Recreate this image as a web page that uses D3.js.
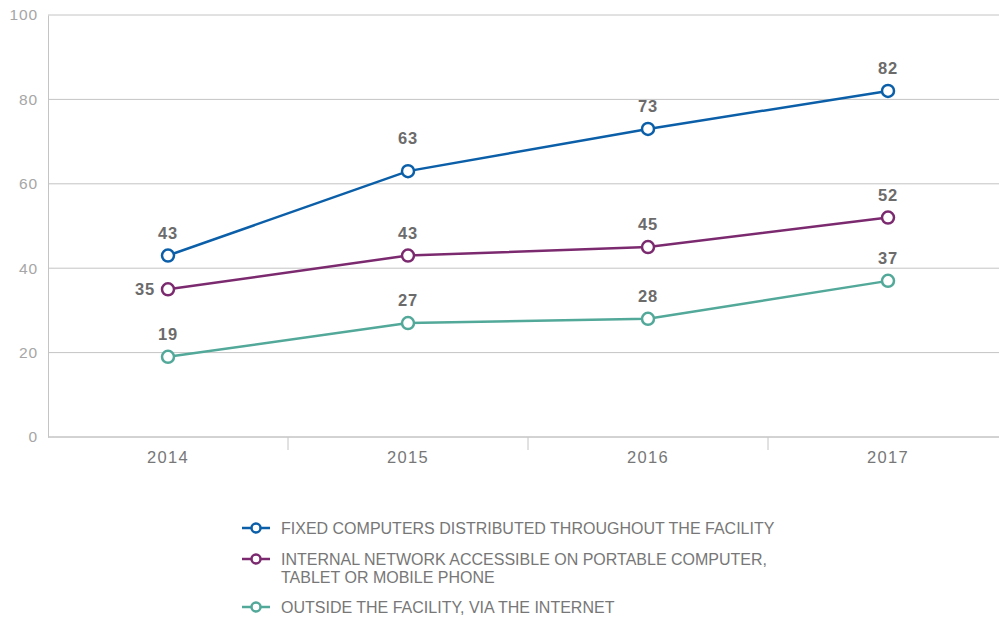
<!DOCTYPE html>
<html>
<head>
<meta charset="utf-8">
<script src="https://cdn.jsdelivr.net/npm/d3@7/dist/d3.min.js"></script>
<style>
  html, body { margin: 0; padding: 0; background: #fff; }
  svg { display: block; font-family: "Liberation Sans", Arial, sans-serif; }
</style>
</head>
<body>
<svg id="chart" width="999" height="617"></svg>
<script>
// Years on the x axis
const years = ["2014", "2015", "2016", "2017"];

// Share of facilities (%) per access mode
const fixedComputers = [43, 63, 73, 82];
const internalNetwork = [35, 43, 45, 52];
const outsideInternet = [19, 27, 28, 37];

const seriesNames = [
  "FIXED COMPUTERS DISTRIBUTED THROUGHOUT THE FACILITY",
  "INTERNAL NETWORK ACCESSIBLE ON PORTABLE COMPUTER,|TABLET OR MOBILE PHONE",
  "OUTSIDE THE FACILITY, VIA THE INTERNET"
];
const seriesColors = ["#0b5fa9", "#7c2a6f", "#52a899"];

// Y axis ticks
const yTicks = [0, 20, 40, 60, 80, 100];

const series = [fixedComputers, internalNetwork, outsideInternet].map((values, i) => ({
  name: seriesNames[i],
  color: seriesColors[i],
  values
}));

const svg = d3.select("#chart");
const width = 999;

const x = d3.scaleBand().domain(years).range([48, 1008]).padding(0);
const y = d3.scaleLinear().domain([0, 100]).range([437, 15]);

// Horizontal grid lines
svg.append("g")
  .selectAll("line")
  .data(yTicks)
  .join("line")
  .attr("x1", 48).attr("x2", width)
  .attr("y1", d => y(d)).attr("y2", d => y(d))
  .attr("stroke", "#c4c4c4").attr("stroke-width", 1);

// Y axis
const yAxis = svg.append("g")
  .attr("transform", "translate(48,0)")
  .call(d3.axisLeft(y).tickValues(yTicks).tickSize(0).tickPadding(10));
yAxis.select(".domain").attr("stroke", "#c4c4c4");
yAxis.selectAll("text")
  .attr("fill", "#a6a6a6")
  .style("font-size", "15.5px")
  .style("letter-spacing", "0.9px")
  .style("font-family", "'Liberation Sans', Arial, sans-serif");

// X axis with separators between years
const xAxis = svg.append("g").attr("transform", "translate(0,437)");
xAxis.append("line")
  .attr("x1", 48).attr("x2", width)
  .attr("stroke", "#c4c4c4");
xAxis.selectAll("line.sep")
  .data(years.slice(1))
  .join("line")
  .attr("class", "sep")
  .attr("x1", d => x(d)).attr("x2", d => x(d))
  .attr("y1", 0).attr("y2", 13)
  .attr("stroke", "#c4c4c4");
xAxis.selectAll("text")
  .data(years)
  .join("text")
  .attr("x", d => x(d) + x.bandwidth() / 2)
  .attr("y", 26)
  .attr("text-anchor", "middle")
  .attr("fill", "#777")
  .style("font-size", "16.5px")
  .style("letter-spacing", "1.3px")
  .text(d => d);

const cx = (d, i) => x(years[i]) + x.bandwidth() / 2;
const line = d3.line().x((d, i) => cx(d, i)).y(d => y(d));

// Lines, markers and value labels
series.forEach((s, si) => {
  const g = svg.append("g");
  g.append("path")
    .attr("d", line(s.values))
    .attr("fill", "none")
    .attr("stroke", s.color)
    .attr("stroke-width", 2.5);
  g.selectAll("circle")
    .data(s.values)
    .join("circle")
    .attr("cx", cx)
    .attr("cy", d => y(d))
    .attr("r", 6)
    .attr("fill", "#fff")
    .attr("stroke", s.color)
    .attr("stroke-width", 2.5);
  g.selectAll("text")
    .data(s.values)
    .join("text")
    .attr("x", (d, i) => (si === 1 && i === 0) ? cx(d, i) - 13 : cx(d, i))
    .attr("y", (d, i) => {
      if (si === 1 && i === 0) return y(d) + 6;
      if (si === 0 && i === 1) return y(d) - 27;
      return y(d) - 17;
    })
    .attr("text-anchor", (d, i) => (si === 1 && i === 0) ? "end" : "middle")
    .attr("fill", "#6b6b6b")
    .style("font-size", "16.5px")
    .style("font-weight", "bold")
    .style("letter-spacing", "0.8px")
    .text(d => d);
});

// Legend
const legendRows = [528, 559, 607];
series.forEach((s, i) => {
  const g = svg.append("g").attr("transform", `translate(0,${legendRows[i]})`);
  g.append("line")
    .attr("x1", 242).attr("x2", 270)
    .attr("stroke", s.color).attr("stroke-width", 2.5);
  g.append("circle")
    .attr("cx", 256).attr("r", 4.5)
    .attr("fill", "#fff").attr("stroke", s.color).attr("stroke-width", 2.5);
  const t = g.append("text")
    .attr("x", 281).attr("y", 6)
    .attr("fill", "#777")
    .style("font-size", "16px");
  s.name.split("|").forEach((ln, k) => {
    t.append("tspan").attr("x", 281).attr("dy", k === 0 ? 0 : 18).text(ln);
  });
});
</script>
</body>
</html>
